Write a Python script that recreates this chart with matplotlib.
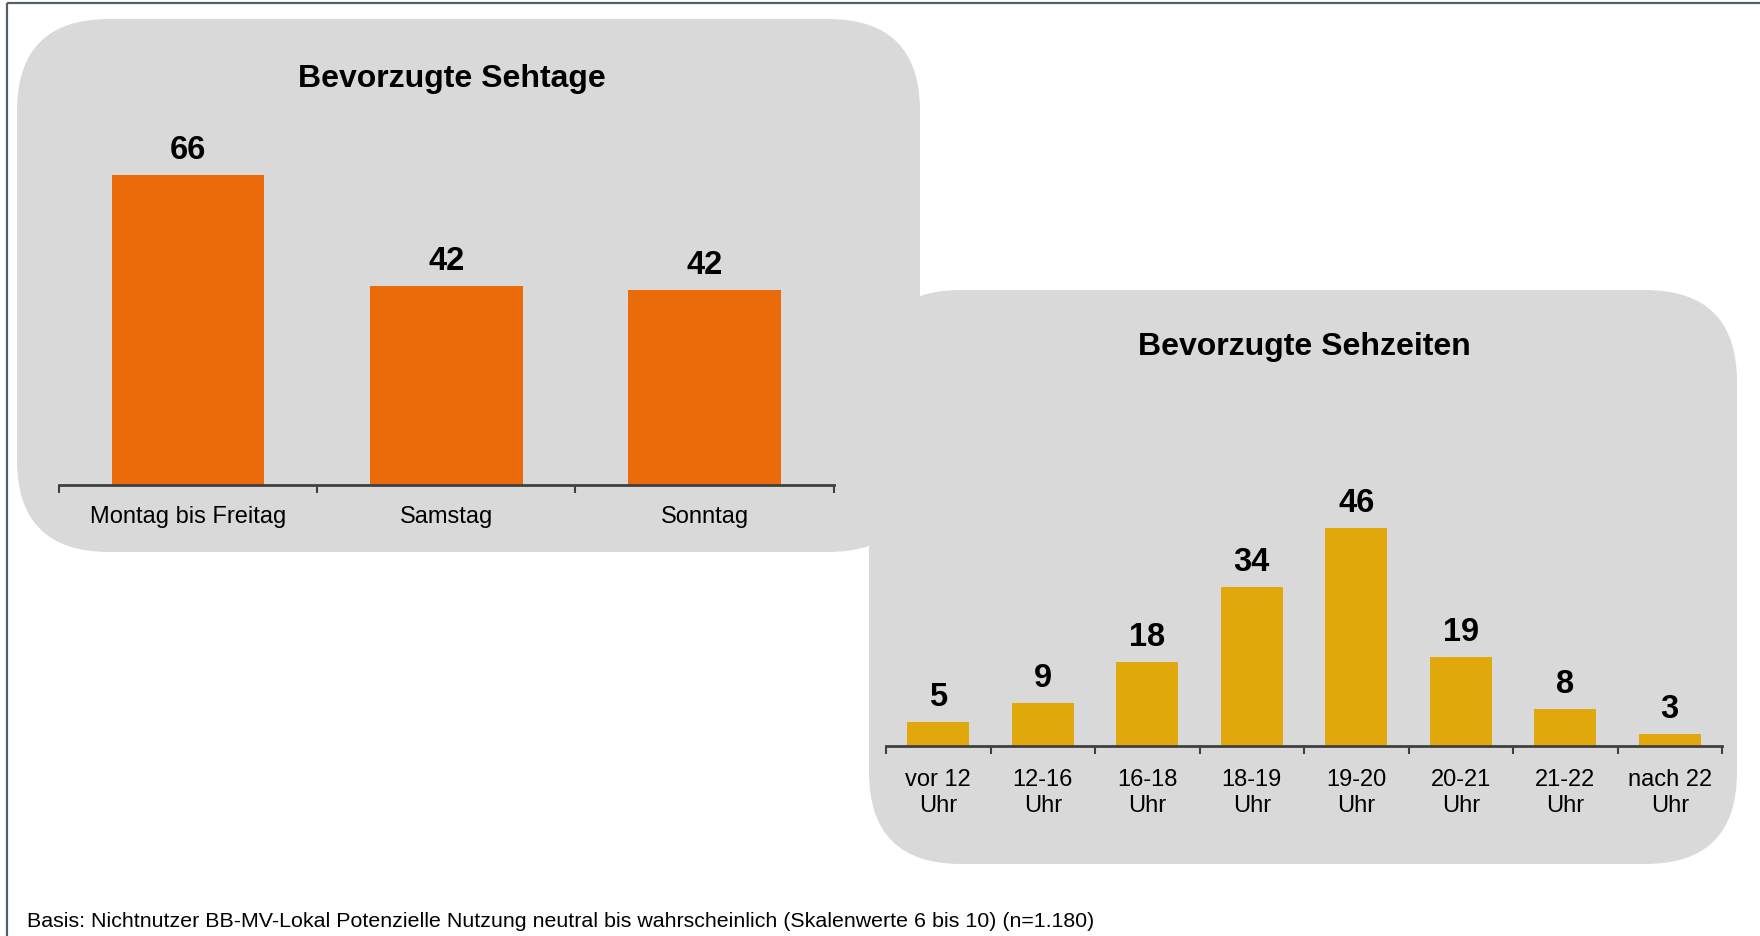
import matplotlib
matplotlib.use("Agg")
from matplotlib import pyplot as plt
from matplotlib.patches import FancyBboxPatch, Rectangle

plt.rcParams['font.family'] = ['Liberation Sans', 'DejaVu Sans']

# Daten
tage = ["Montag bis Freitag", "Samstag", "Sonntag"]
tage_werte = [66.2, 42.5, 41.7]
tage_labels = ["66", "42", "42"]

zeiten = ["vor 12\nUhr", "12-16\nUhr", "16-18\nUhr", "18-19\nUhr",
          "19-20\nUhr", "20-21\nUhr", "21-22\nUhr", "nach 22\nUhr"]
zeiten_werte = [5.1, 9.2, 17.9, 34.0, 46.5, 19.1, 8.0, 2.6]
zeiten_labels = ["5", "9", "18", "34", "46", "19", "8", "3"]

W, H = 1760, 937
PX = 0.72  # px -> pt bei dpi 100

fig = plt.figure(figsize=(W / 100, H / 100), dpi=100)
fig.patch.set_facecolor("white")

# Hintergrund in Pixelkoordinaten
bg = fig.add_axes([0, 0, 1, 1], zorder=0)
bg.set_xlim(0, W)
bg.set_ylim(H, 0)
bg.axis("off")

bg.add_patch(Rectangle((6.5, 4), W + 20, H + 20, fill=False,
                       edgecolor="#555d66", linewidth=2.2 * PX))
bg.add_patch(FancyBboxPatch((869, 291), 1737 - 869, 865 - 291,
                            boxstyle="round,pad=0,rounding_size=92",
                            facecolor="#d9d9d9", edgecolor="none"))
bg.add_patch(FancyBboxPatch((17, 20), 920 - 17, 553 - 20,
                            boxstyle="round,pad=0,rounding_size=92",
                            facecolor="#d9d9d9", edgecolor="none"))

bg.text(452, 79.5, "Bevorzugte Sehtage", fontsize=23, fontweight="bold",
        ha="center", va="center")
bg.text(1304, 347, "Bevorzugte Sehzeiten", fontsize=23, fontweight="bold",
        ha="center", va="center")
bg.text(27, 922, "Basis: Nichtnutzer BB-MV-Lokal Potenzielle Nutzung neutral bis "
        "wahrscheinlich (Skalenwerte 6 bis 10) (n=1.180)",
        fontsize=15.4, ha="left", va="center")

SCALE = 4.68  # px pro Prozentpunkt


def balken(x0, x1, base, ymax, kat, werte, labels, farbe):
    left = x0 / W
    width = (x1 - x0) / W
    bottom = (H - base) / H
    height = ymax * SCALE / H
    ax = fig.add_axes([left, bottom, width, height], zorder=2)
    ax.patch.set_visible(False)
    n = len(kat)
    pos = list(range(n))
    ax.bar(pos, werte, width=0.59, color=farbe, zorder=2)
    ax.set_xlim(-0.5, n - 0.5)
    ax.set_ylim(0, ymax)
    for s in ["top", "left", "right"]:
        ax.spines[s].set_visible(False)
    ax.spines["bottom"].set_color("#404040")
    ax.spines["bottom"].set_linewidth(2)
    ax.set_yticks([])
    ax.set_xticks(pos)
    ax.set_xticklabels([])
    ax.tick_params(axis="x", which="major", length=0)
    ax.set_xticks([p - 0.5 for p in range(n + 1)], minor=True)
    ax.tick_params(axis="x", which="minor", length=6, width=1.5,
                   color="#404040", direction="out")
    for p, v, lab in zip(pos, werte, labels):
        ax.annotate(lab, (p, v), xytext=(0, 25.5 * PX), textcoords="offset points",
                    ha="center", va="center", fontsize=23.5, fontweight="bold",
                    annotation_clip=False)
    for p, k in zip(pos, kat):
        zeilen = k.count("\n") + 1
        off = 31 if zeilen == 1 else 46
        ax.annotate(k, (p, 0), xytext=(0, -off * PX), textcoords="offset points",
                    ha="center", va="center", fontsize=17, linespacing=1.2,
                    annotation_clip=False)
    return ax


balken(59, 833.7, 486, 70, tage, tage_werte, tage_labels, "#eb6a0a")
balken(886, 1722, 747, 50, zeiten, zeiten_werte, zeiten_labels, "#e0a80b")

fig.savefig("out.png", dpi=100)
